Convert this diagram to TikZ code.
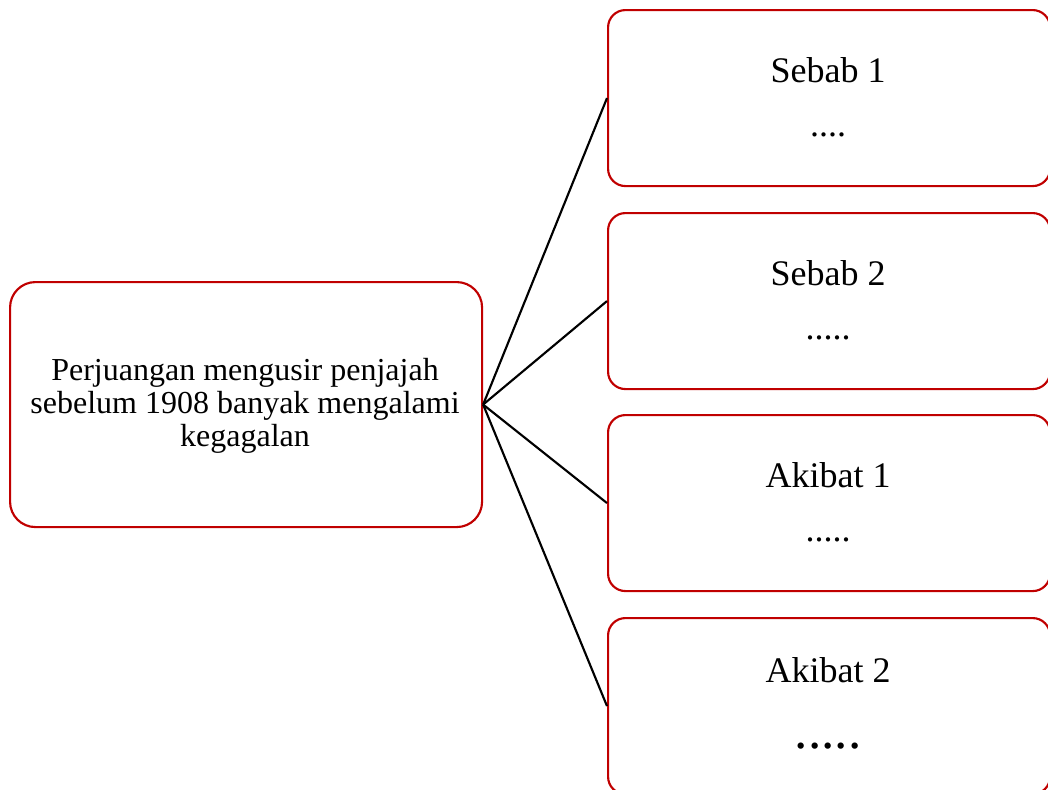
\documentclass[tikz,border=0pt]{standalone}
\usepackage{fontspec}
\setmainfont{Liberation Serif}
\definecolor{boxred}{HTML}{C00000}
\begin{document}
\begin{tikzpicture}[x=0.75pt,y=-0.75pt,
  card/.style={draw=boxred, line width=1.6pt, fill=white, inner sep=0pt,
    anchor=north west, rounded corners=13pt,
    minimum width=331.5pt, minimum height=132pt},
  topic/.style={draw=boxred, line width=1.6pt, fill=white, inner sep=0pt,
    anchor=north west, rounded corners=19pt,
    minimum width=354pt, minimum height=183.75pt},
  link/.style={draw=black, line width=1.6pt},
  head/.style={anchor=base, inner sep=0pt, font=\fontsize{27}{27}\selectfont},
  fill/.style={anchor=base, inner sep=0pt, font=\fontsize{27}{27}\selectfont},
  bigfill/.style={anchor=base, inner sep=0pt, font=\fontsize{40}{40}\selectfont},
  body/.style={anchor=base, inner sep=0pt, font=\fontsize{24}{24}\selectfont}]
\useasboundingbox (0,0) rectangle (1048,789);

% central statement
\node[topic] (main) at (9,281) {};
\node[body] (m1) at (245,380) {Perjuangan mengusir penjajah};
\node[body] (m2) at (245,413.3) {sebelum 1908 banyak mengalami};
\node[body] (m3) at (245,446.7) {kegagalan};

% causes and effects
\node[card] (c1) at (607,9) {};
\node[card] (c2) at (607,212) {};
\node[card] (c3) at (607,414) {};
\node[card] (c4) at (607,617) {};

% connectors from the statement to each card
\draw[link] (main.east) -- (c1.west);
\draw[link] (main.east) -- (c2.west);
\draw[link] (main.east) -- (c3.west);
\draw[link] (main.east) -- (c4.west);

\node[head] (t1) at (828,82) {Sebab 1};
\node[fill] (d1) at (828,136) {....};
\node[head] (t2) at (828,285) {Sebab 2};
\node[fill] (d2) at (828,339) {.....};
\node[head] (t3) at (828,487) {Akibat 1};
\node[fill] (d3) at (828,541) {.....};
\node[head] (t4) at (828,682) {Akibat 2};
\node[bigfill] (d4) at (828,748) {.....};
\end{tikzpicture}
\end{document}
